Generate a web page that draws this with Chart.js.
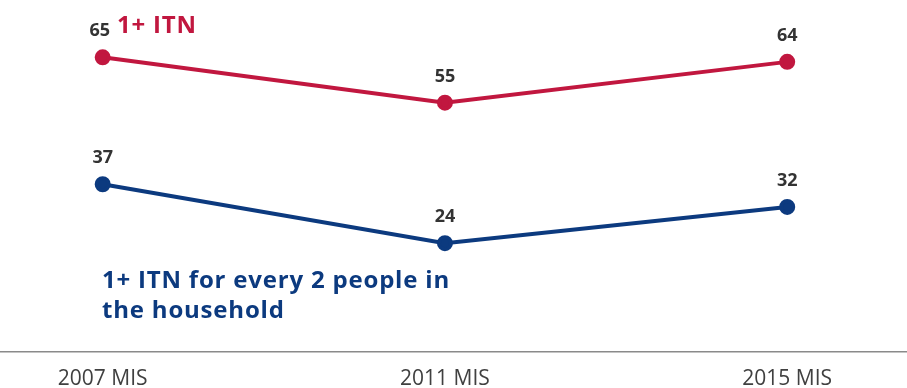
<!DOCTYPE html>
<html>
<head>
<meta charset="utf-8">
<script src="https://cdn.jsdelivr.net/npm/chart.js@4.4.0/dist/chart.umd.min.js"></script>
<style>
  html, body { margin: 0; padding: 0; background: #fff; }
  #wrap { width: 907px; height: 388px; }
</style>
</head>
<body>
<div id="wrap"><canvas id="chart"></canvas></div>
<script>
const surveys = ['2007 MIS', '2011 MIS', '2015 MIS'];
const anyItn = [65, 55, 64];
const itnPerTwo = [37, 24, 32];

const RED = '#c1173f';
const BLUE = '#0c3a7f';

// value labels above each point plus the two series captions
const labelPlugin = {
    id: 'labels',
    afterDatasetsDraw(chart) {
        const ctx = chart.ctx;
        ctx.save();
        ctx.textAlign = 'center';
        ctx.textBaseline = 'middle';
        ctx.font = 'bold 18px "Open Sans"';
        ctx.fillStyle = '#333';
        chart.data.datasets.forEach((ds, i) => {
            chart.getDatasetMeta(i).data.forEach((pt, j) => {
                ctx.fillText(ds.data[j].y, pt.x - (i === 0 && j === 0 ? 3 : 0), pt.y - 26);
            });
        });

        ctx.textAlign = 'left';
        ctx.letterSpacing = '0.8px';
        ctx.font = 'bold 24px "Open Sans"';
        ctx.fillStyle = RED;
        ctx.fillText('1+ ITN', 117, 26);
        ctx.fillStyle = BLUE;
        ctx.fillText('1+ ITN for every 2 people in', 102, 281);
        ctx.fillText('the household', 102, 311);
        ctx.restore();
    }
};

new Chart(document.getElementById('chart'), {
    type: 'line',
    data: {
        datasets: [
            {
                label: '1+ ITN',
                data: anyItn.map((v, i) => ({ x: i, y: v })),
                borderColor: RED,
                backgroundColor: RED,
                borderWidth: 4,
                pointRadius: 6,
                pointHoverRadius: 6
            },
            {
                label: '1+ ITN for every 2 people in the household',
                data: itnPerTwo.map((v, i) => ({ x: i, y: v })),
                borderColor: BLUE,
                backgroundColor: BLUE,
                borderWidth: 4,
                pointRadius: 6,
                pointHoverRadius: 6
            }
        ]
    },
    options: {
        responsive: true,
        maintainAspectRatio: false,
        animation: false,
        layout: { autoPadding: false, padding: { top: 12, left: 0, right: 0, bottom: 0 } },
        plugins: {
            legend: { display: false },
            tooltip: { enabled: false }
        },
        scales: {
            x: {
                type: 'linear',
                min: -0.3,
                max: 2.35,
                afterBuildTicks: scale => {
                    scale.ticks = surveys.map((s, i) => ({ value: i }));
                },
                afterFit: scale => { scale.height = 36; },
                grid: { display: false, drawTicks: false },
                border: { display: true, color: '#8a8a8a', width: 1.5 },
                ticks: {
                    callback: v => surveys[v],
                    color: '#404040',
                    font: { family: '"Open Sans"', size: 21, lineHeight: 1 },
                    padding: 17,
                    maxRotation: 0,
                    autoSkip: false
                }
            },
            y: {
                display: false,
                min: 0,
                max: 75
            }
        }
    },
    plugins: [labelPlugin]
});
</script>
</body>
</html>
